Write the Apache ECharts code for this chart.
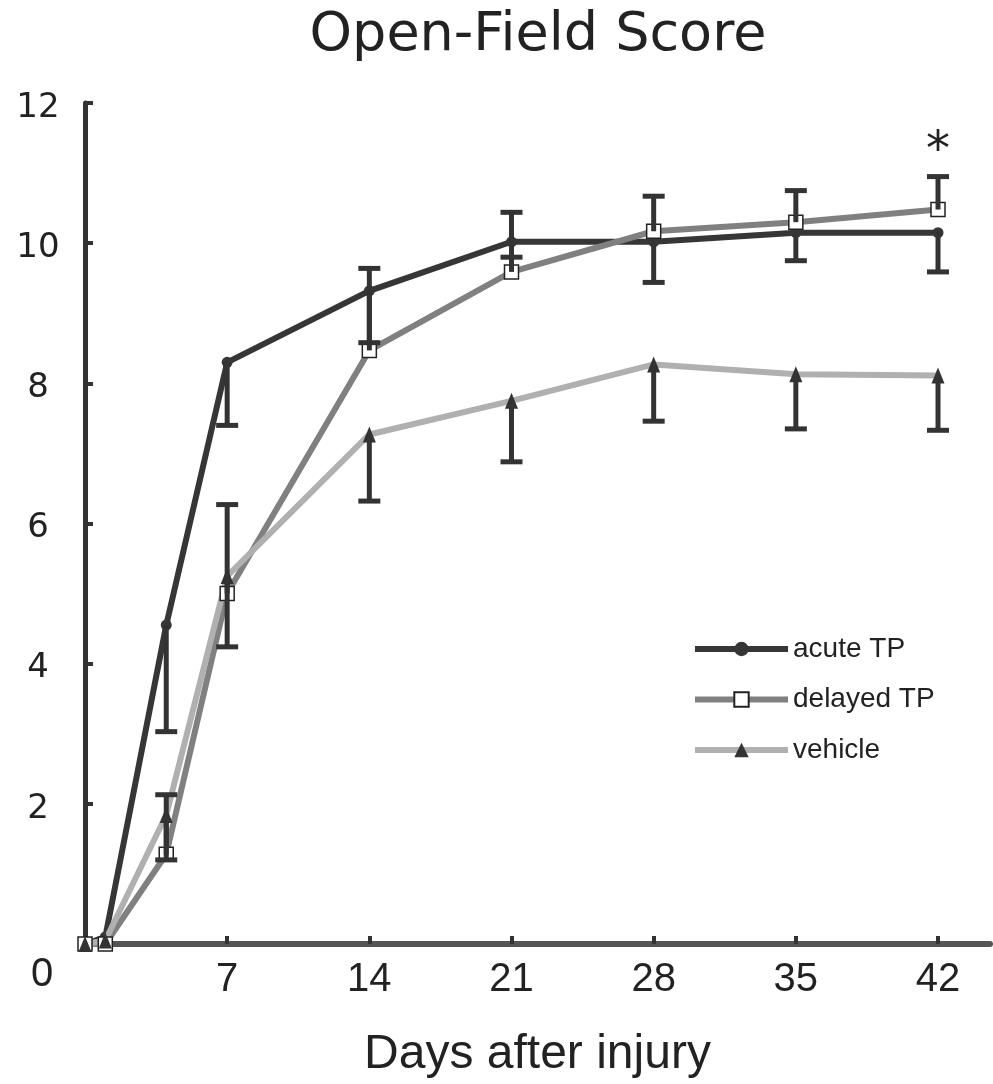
<!DOCTYPE html>
<html>
<head>
<meta charset="utf-8">
<script src="https://cdn.jsdelivr.net/npm/echarts@6/dist/echarts.min.js"></script>
<style>
  html, body { margin: 0; padding: 0; background: #fff; }
  #main { width: 993px; height: 1084px; }
</style>
</head>
<body>
<div id="main"></div>
<script>
// days after injury
var days = [0, 1, 4, 7, 14, 21, 28, 35, 42];

// mean scores
var acuteTP = [0, 0.1, 4.55, 8.3, 9.32, 10.02, 10.02, 10.15, 10.15];
var delayedTP = [0, 0, 1.28, 5.0, 8.47, 9.59, 10.17, 10.3, 10.48];
var vehicle = [0, 0.05, 1.84, 5.25, 7.27, 7.75, 8.27, 8.13, 8.11];

// one-sided error bar ends (null = no bar)
var acuteLow = [null, null, 3.03, 7.4, 8.58, 9.8, 9.44, 9.75, 9.59];
var delayedHigh = [null, null, 2.13, 6.27, 9.64, 10.44, 10.67, 10.75, 10.95];
var vehicleLow = [null, null, 1.2, 4.24, 6.32, 6.88, 7.46, 7.35, 7.33];

var yTicks = [2, 4, 6, 8, 10, 12];

function pairs(vals) {
    return days.map(function (d, i) { return [d, vals[i]]; });
}

function bars(mean, ends) {
    var out = [];
    days.forEach(function (d, i) {
        if (ends[i] !== null) out.push([d, mean[i], ends[i]]);
    });
    return out;
}

function errorSeries(name, data) {
    return {
        name: name,
        type: 'custom',
        z: 4,
        silent: true,
        renderItem: function (params, api) {
            var a = api.coord([api.value(0), api.value(1)]);
            var b = api.coord([api.value(0), api.value(2)]);
            var w = 11;
            var st = { stroke: '#333', lineWidth: 5 };
            return {
                type: 'group',
                children: [
                    { type: 'line', shape: { x1: a[0], y1: a[1], x2: b[0], y2: b[1] }, style: st },
                    { type: 'line', shape: { x1: b[0] - w, y1: b[1], x2: b[0] + w, y2: b[1] }, style: st }
                ]
            };
        },
        data: data
    };
}

var chart = echarts.init(document.getElementById('main'));
var sans = '"Liberation Sans", Arial, sans-serif';
var wide = '"DejaVu Sans", sans-serif';

var option = {
    animation: false,
    title: {
        text: 'Open-Field Score',
        left: 533,
        top: 4,
        textAlign: 'center',
        textStyle: { fontFamily: wide, fontSize: 54, fontWeight: 'normal', color: '#222' }
    },
    grid: { left: 85, right: 3, top: 103, bottom: 138 },
    legend: {
        data: ['acute TP', 'delayed TP', 'vehicle'],
        orient: 'vertical',
        left: 687,
        top: 630,
        itemWidth: 93,
        itemHeight: 18,
        itemGap: 22.5,
        selectedMode: false,
        lineStyle: { width: 6 },
        textStyle: { fontFamily: sans, fontSize: 28, color: '#222' }
    },
    xAxis: {
        type: 'value',
        min: 0,
        max: 44.56,
        interval: 7,
        name: 'Days after injury',
        nameLocation: 'middle',
        nameGap: 87,
        nameTextStyle: { fontFamily: sans, fontSize: 48, color: '#222' },
        axisLine: { lineStyle: { color: '#555', width: 6 } },
        axisTick: { inside: true, length: 8, lineStyle: { color: '#333', width: 4 } },
        axisLabel: {
            margin: 16,
            fontFamily: sans,
            fontSize: 40,
            color: '#222',
            showMaxLabel: false,
            formatter: function (v) { return v === 0 ? '' : String(v); }
        },
        splitLine: { show: false }
    },
    yAxis: {
        type: 'value',
        min: 0,
        max: 12,
        interval: 2,
        axisLine: { lineStyle: { color: '#333', width: 5 } },
        axisTick: { inside: true, length: 8, lineStyle: { color: '#333', width: 4 } },
        axisLabel: {
            margin: 47,
            align: 'center',
            fontFamily: wide,
            fontSize: 34,
            color: '#222',
            formatter: function (v) { return yTicks.indexOf(v) >= 0 ? '{v|' + v + '}' : ''; },
            rich: {
                v: { fontFamily: wide, fontSize: 34, color: '#222', padding: [10, 0, 0, 0] }
            }
        },
        splitLine: { show: false }
    },
    graphic: [
        { type: 'text', left: 31, top: 955, style: { text: '0', font: '40px ' + sans, fill: '#222' } },
        { type: 'text', left: 926, top: 129, style: { text: '*', font: '48px "DejaVu Sans"', fill: '#222' } }
    ],
    series: [
        {
            name: 'acute TP',
            type: 'line',
            z: 2,
            data: pairs(acuteTP),
            symbol: 'circle',
            symbolSize: 11,
            itemStyle: { color: '#363636' },
            lineStyle: { color: '#363636', width: 6 }
        },
        {
            name: 'delayed TP',
            type: 'line',
            z: 3,
            data: pairs(delayedTP),
            symbol: 'rect',
            symbolSize: 14,
            itemStyle: { color: '#fff', borderColor: '#222', borderWidth: 1.5 },
            lineStyle: { color: '#808080', width: 6 }
        },
        {
            name: 'vehicle',
            type: 'line',
            z: 3,
            data: pairs(vehicle),
            symbol: 'triangle',
            symbolSize: [13, 16],
            itemStyle: { color: '#333' },
            lineStyle: { color: '#b0b0b0', width: 6 }
        },
        errorSeries('acute err', bars(acuteTP, acuteLow)),
        errorSeries('delayed err', bars(delayedTP, delayedHigh)),
        errorSeries('vehicle err', bars(vehicle, vehicleLow))
    ]
};

chart.setOption(option);
</script>
</body>
</html>
